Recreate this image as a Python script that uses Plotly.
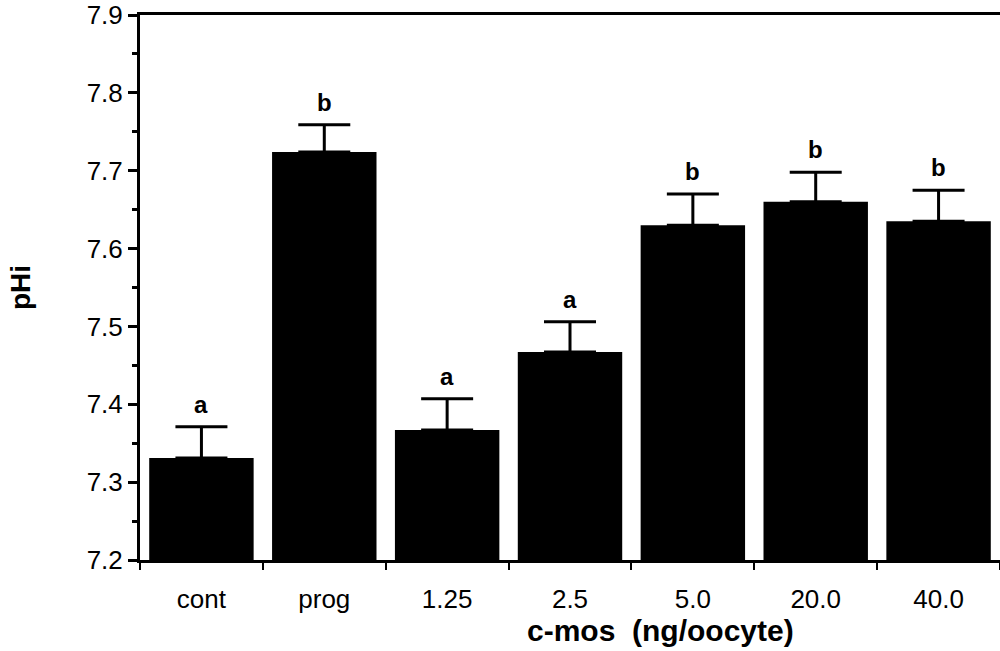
import plotly.graph_objects as go

categories = ["cont", "prog", "1.25", "2.5", "5.0", "20.0", "40.0"]
values = [7.331, 7.724, 7.367, 7.467, 7.630, 7.660, 7.635]
errors = [0.040, 0.035, 0.040, 0.039, 0.040, 0.038, 0.040]
letters = ["a", "b", "a", "a", "b", "b", "b"]

FONT = "Liberation Sans, Arial, sans-serif"

fig = go.Figure()
fig.add_trace(go.Bar(
    x=categories,
    y=[v - 7.2 for v in values],
    base=7.2,
    width=0.85,
    marker=dict(color="black", line=dict(width=0)),
    error_y=dict(type="data", symmetric=False, array=errors,
                 arrayminus=[0] * len(errors), color="black",
                 thickness=3, width=26),
    showlegend=False,
))

for i, (v, e, t) in enumerate(zip(values, errors, letters)):
    fig.add_annotation(x=i, y=v + e, text=t, showarrow=False,
                       yanchor="bottom", yshift=7,
                       font=dict(family=FONT, size=24, color="black", weight="bold"))

fig.add_annotation(xref="paper", yref="paper", x=0.605, y=-0.095,
                   text="c-mos  (ng/oocyte)", showarrow=False,
                   xanchor="center", yanchor="top",
                   font=dict(family=FONT, size=30, color="black", weight="bold"))

fig.update_layout(
    width=1000, height=651,
    margin=dict(l=140, r=0, t=15, b=91),
    paper_bgcolor="white", plot_bgcolor="white",
    font=dict(family=FONT, color="black"),
)
fig.update_xaxes(
    type="category", range=[-0.5, 6.5],
    showline=True, linecolor="black", linewidth=3, mirror=True,
    ticks="outside", tickson="boundaries", ticklen=7, tickwidth=2, tickcolor="black",
    tickfont=dict(family=FONT, size=26, color="black"),
    ticklabelstandoff=14,
    showgrid=False, zeroline=False,
)
fig.update_yaxes(
    range=[7.2, 7.9], dtick=0.1, tickformat=".1f",
    showline=True, linecolor="black", linewidth=3,
    ticks="outside", ticklen=9, tickwidth=3, tickcolor="black",
    minor=dict(dtick=0.05, ticks="outside", ticklen=5, tickwidth=3, tickcolor="black", showgrid=False),
    tickfont=dict(family=FONT, size=26, color="black"),
    showgrid=False, zeroline=False,
    title=dict(text="<b>pHi</b>", font=dict(family=FONT, size=28, color="black"), standoff=48),
)

fig.write_html("out.html")
